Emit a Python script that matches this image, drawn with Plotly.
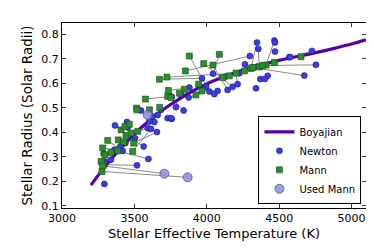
import plotly.graph_objects as go

# Boyajian relation
boy_teff = [3200, 3300, 3400, 3500, 3600, 3700, 3800, 3900, 4000, 4100, 4200,
            4300, 4400, 4500, 4600, 4700, 4800, 4900, 5000, 5100]
boy_rad = [0.184, 0.262, 0.331, 0.393, 0.446, 0.493, 0.533, 0.568, 0.598, 0.623,
           0.645, 0.663, 0.679, 0.694, 0.707, 0.719, 0.732, 0.746, 0.761, 0.778]

# Paired stars: Newton value and Mann value
pair_newton_teff = [3518, 3297, 3288, 3362, 3338, 3419, 3403, 3597, 3438, 3564, 3504,
                    3366, 3454, 3449, 3592, 3656, 3546, 3749, 3638, 3684, 3967, 4225,
                    3880, 3758, 4298, 4018, 4043, 4179, 4144, 3822, 3994, 4075, 3875,
                    3787, 3840, 4126, 4351, 4213, 4264, 4347, 4356, 4467, 4727, 4570,
                    4754, 4674, 3615]
pair_newton_rad = [0.265, 0.281, 0.312, 0.329, 0.288, 0.324, 0.342, 0.291, 0.356, 0.342, 0.376,
                   0.428, 0.420, 0.442, 0.417, 0.401, 0.489, 0.547, 0.442, 0.492, 0.621, 0.642,
                   0.583, 0.545, 0.712, 0.567, 0.640, 0.586, 0.573, 0.556, 0.587, 0.569, 0.542,
                   0.503, 0.489, 0.627, 0.669, 0.597, 0.678, 0.767, 0.741, 0.775, 0.733, 0.707,
                   0.676, 0.632, 0.414]
pair_mann_teff = [3285, 3270, 3297, 3281, 3338, 3316, 3389, 3385, 3426, 3442, 3477,
                  3408, 3435, 3465, 3523, 3495, 3516, 3576, 3604, 3675, 3673, 3725,
                  3735, 3730, 3852, 3880, 4087, 3979, 4043, 3845, 3944, 3967, 3925,
                  3811, 3753, 4110, 4156, 4202, 4260, 4305, 4363, 4409, 4467, 4651,
                  4386, 4317, 3488]
pair_mann_rad = [0.268, 0.281, 0.308, 0.336, 0.318, 0.367, 0.369, 0.324, 0.360, 0.387, 0.397,
                 0.410, 0.424, 0.433, 0.404, 0.356, 0.499, 0.536, 0.492, 0.502, 0.617, 0.626,
                 0.571, 0.547, 0.651, 0.712, 0.719, 0.681, 0.675, 0.576, 0.597, 0.569, 0.553,
                 0.560, 0.542, 0.624, 0.631, 0.642, 0.651, 0.661, 0.667, 0.675, 0.686, 0.709,
                 0.673, 0.665, 0.322]

# Newton-only stars
solo_newton_teff = [3293, 4471, 4577, 4421, 4370, 4402, 4340, 3730, 3758, 3626, 3661,
                    3604, 3753, 4317, 4386, 4471, 4052, 3994]
solo_newton_rad = [0.189, 0.730, 0.708, 0.631, 0.618, 0.618, 0.580, 0.458, 0.455, 0.465, 0.471,
                   0.444, 0.458, 0.665, 0.673, 0.767, 0.556, 0.587]

# Stars where the Mann value was used, with their matching Mann point
used_teff = [3868, 3707, 3592]
used_rad = [0.216, 0.231, 0.471]
used_mann_teff = [3276, 3281, 3518]
used_mann_rad = [0.240, 0.263, 0.492]

# connecting segments
lx, ly = [], []
for a, b, c, d in zip(pair_newton_teff, pair_newton_rad, pair_mann_teff, pair_mann_rad):
    lx += [a, c, None]
    ly += [b, d, None]
for a, b, c, d in zip(used_teff, used_rad, used_mann_teff, used_mann_rad):
    lx += [a, c, None]
    ly += [b, d, None]

font = "DejaVu Sans, Arial, sans-serif"
fig = go.Figure()
fig.add_trace(go.Scatter(x=lx, y=ly, mode="lines", line=dict(color="#8a8a8a", width=1),
                         showlegend=False, hoverinfo="skip"))
fig.add_trace(go.Scatter(x=boy_teff, y=boy_rad, mode="lines", name="Boyajian",
                         line=dict(color="#5a00a8", width=3.2, shape="spline")))
fig.add_trace(go.Scatter(x=pair_newton_teff + solo_newton_teff,
                         y=pair_newton_rad + solo_newton_rad, mode="markers", name="Newton",
                         marker=dict(color="#3c3ce6", size=6,
                                     line=dict(color="#1a1a80", width=0.6))))
fig.add_trace(go.Scatter(x=pair_mann_teff + used_mann_teff, y=pair_mann_rad + used_mann_rad,
                         mode="markers", name="Mann",
                         marker=dict(color="#2f8c2f", size=6, symbol="square",
                                     line=dict(color="#145014", width=0.6))))
fig.add_trace(go.Scatter(x=used_teff, y=used_rad, mode="markers", name="Used Mann",
                         marker=dict(color="rgba(140,140,230,0.85)", size=9,
                                     line=dict(color="#555577", width=0.8))))

axis_common = dict(showline=True, linecolor="black", linewidth=1.3, mirror="allticks",
                   ticks="inside", ticklen=4, tickcolor="#333", showgrid=False,
                   zeroline=False, tickfont=dict(family=font, size=11, color="black"))
fig.update_layout(
    width=374, height=249,
    margin=dict(l=54, r=16, t=15, b=49),
    paper_bgcolor="white", plot_bgcolor="white",
    font=dict(family=font, color="black"),
    xaxis=dict(range=[3000, 5100], tickvals=[3000, 3500, 4000, 4500, 5000],
               title=dict(text="Stellar Effective Temperature (K)",
                          font=dict(family=font, size=13), standoff=4), **axis_common),
    yaxis=dict(range=[0.0906, 0.847], tickvals=[0.1, 0.2, 0.3, 0.4, 0.5, 0.6, 0.7, 0.8],
               ticktext=["0.1", "0.2", "0.3", "0.4", "0.5", "0.6", "0.7", "0.8"],
               title=dict(text="Stellar Radius (Solar Radii)",
                          font=dict(family=font, size=13.5), standoff=5), **axis_common),
    legend=dict(x=0.985, y=0.02, xanchor="right", yanchor="bottom",
                bgcolor="white", bordercolor="black", borderwidth=1,
                font=dict(family=font, size=10), tracegroupgap=0, itemwidth=30),
    showlegend=True,
)
fig.write_html("out.html")
